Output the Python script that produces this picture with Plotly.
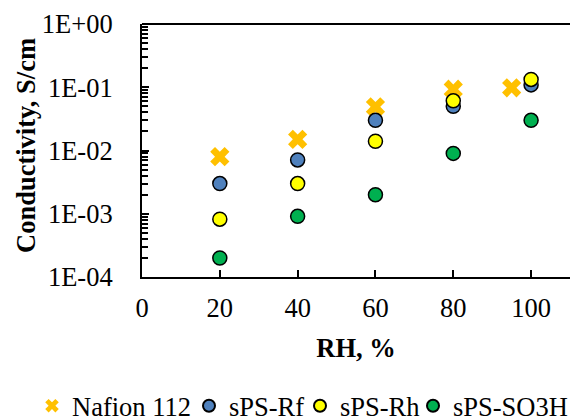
import plotly.graph_objects as go

rh = [20, 40, 60, 80, 100]
nafion_rh = [20, 40, 60, 80, 95]
nafion = [0.008, 0.015, 0.049, 0.093, 0.098]
sps_rf = [0.003, 0.0071, 0.030, 0.050, 0.109]
sps_rh = [0.00082, 0.003, 0.014, 0.061, 0.133]
sps_so3h = [0.0002, 0.00091, 0.002, 0.009, 0.030]

y_tickvals = [1e-4, 1e-3, 1e-2, 1e-1, 1]
y_ticktext = ["1E-04", "1E-03", "1E-02", "1E-01", "1E+00"]

FONT = "Liberation Serif"
FS = 26.5

fig = go.Figure()
fig.add_trace(go.Scatter(x=nafion_rh, y=nafion, mode="markers", name="Nafion 112",
                         legend="legend",
                         marker=dict(symbol="x", size=17, color="#FFC000",
                                     line=dict(width=0))))
fig.add_trace(go.Scatter(x=rh, y=sps_rf, mode="markers", name="sPS-Rf",
                         legend="legend2",
                         marker=dict(symbol="circle", size=14, color="#4F81BD",
                                     line=dict(width=1.5, color="black"))))
fig.add_trace(go.Scatter(x=rh, y=sps_rh, mode="markers", name="sPS-Rh",
                         legend="legend3",
                         marker=dict(symbol="circle", size=14, color="#FFFF00",
                                     line=dict(width=1.5, color="black"))))
fig.add_trace(go.Scatter(x=rh, y=sps_so3h, mode="markers", name="sPS-SO3H",
                         legend="legend4",
                         marker=dict(symbol="circle", size=14, color="#00B050",
                                     line=dict(width=1.5, color="black"))))

minor_vals = [m * 10 ** e for e in range(-4, 0) for m in range(2, 10)]


def leg(xpix):
    return dict(orientation="h", xref="container", yref="container",
                x=xpix / 570, xanchor="left", y=13 / 419, yanchor="middle",
                font=dict(family=FONT, size=FS, color="black"),
                itemwidth=30, indentation=-8, itemsizing="constant",
                bgcolor="rgba(0,0,0,0)")


fig.update_layout(
    width=570, height=419,
    margin=dict(l=142, r=0, t=24, b=142),
    paper_bgcolor="white", plot_bgcolor="white",
    font=dict(family=FONT, size=FS, color="black"),
    showlegend=True,
    legend=leg(40),
    legend2=leg(197),
    legend3=leg(308),
    legend4=leg(421),
    xaxis=dict(range=[0, 110], tickmode="array", tickvals=[0, 20, 40, 60, 80, 100],
               ticks="inside", ticklen=7, tickwidth=2, tickcolor="black",
               showline=True, linewidth=2, linecolor="black", mirror=False,
               showgrid=False, zeroline=False, ticklabelstandoff=6,
               title=dict(text="<b>RH, %</b>", standoff=17, font=dict(family=FONT, size=FS)),
               tickfont=dict(family=FONT, size=FS)),
    yaxis=dict(type="log", range=[-4, 0], tickmode="array", tickvals=y_tickvals,
               ticktext=y_ticktext, ticks="inside", ticklen=7, tickwidth=2,
               tickcolor="black", showline=True, linewidth=2, linecolor="black",
               showgrid=False, zeroline=False, ticklabelstandoff=22,
               minor=dict(tickmode="array", tickvals=minor_vals, ticks="inside",
                          ticklen=6, tickwidth=1.5, tickcolor="black", showgrid=False),
               tickfont=dict(family=FONT, size=FS)),
    annotations=[dict(text="<b>Conductivity, S/cm</b>", xref="paper", yref="paper",
                      x=(26 - 142) / 428, y=0.518, xanchor="center", yanchor="middle",
                      textangle=-90, showarrow=False,
                      font=dict(family=FONT, size=FS, color="black"))],
    shapes=[dict(type="line", xref="paper", yref="paper", x0=0, x1=1, y0=1, y1=1,
                 line=dict(color="black", width=2))],
)

fig.write_html("out.html")
